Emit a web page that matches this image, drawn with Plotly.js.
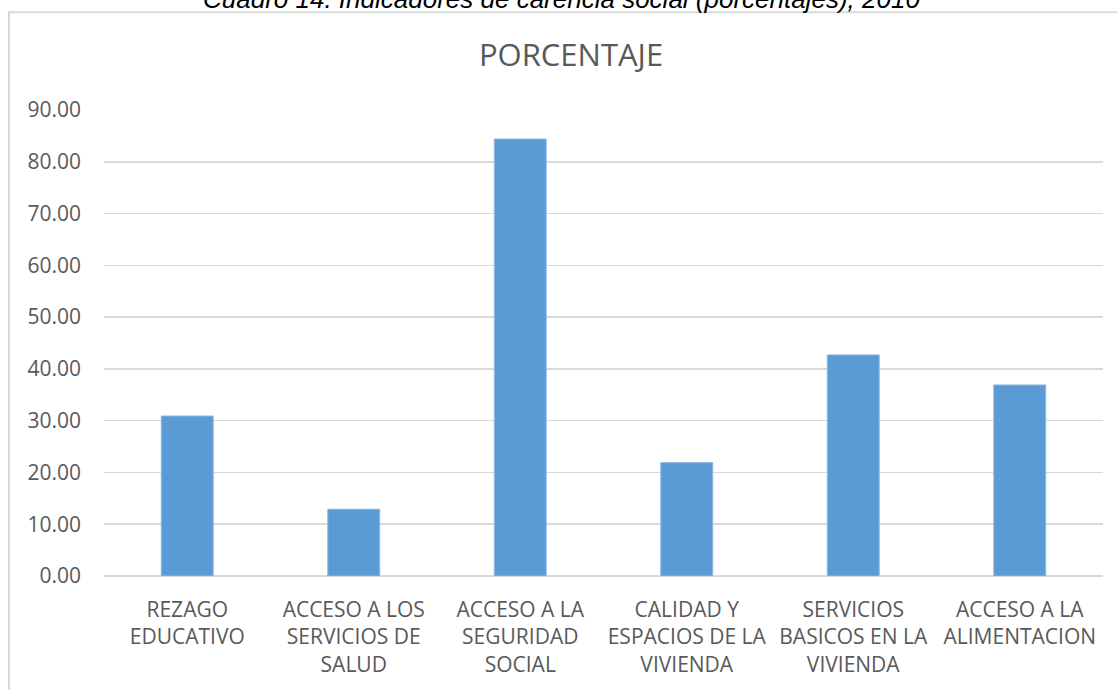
<!DOCTYPE html>
<html>
<head>
<meta charset="utf-8">
<script src="https://cdn.plot.ly/plotly-3.0.1.min.js"></script>
<style>html,body{margin:0;padding:0;background:#fff;}#chart{width:1117px;height:690px;}</style>
</head>
<body>
<div id="chart"></div>
<script>
const categories = [
  "REZAGO<br>EDUCATIVO",
  "ACCESO A LOS<br>SERVICIOS DE<br>SALUD",
  "ACCESO A LA<br>SEGURIDAD<br>SOCIAL",
  "CALIDAD Y<br>ESPACIOS DE LA<br>VIVIENDA",
  "SERVICIOS<br>BASICOS EN LA<br>VIVIENDA",
  "ACCESO A LA<br>ALIMENTACION"
];
const porcentaje = [30.9, 12.9, 84.4, 21.9, 42.7, 36.9];
const yTicks = [0, 10, 20, 30, 40, 50, 60, 70, 80, 90];
const chartTitle = "PORCENTAJE";
const caption = "Cuadro 14. Indicadores de carencia social (porcentajes), 2010";

const trace = {
  type: "bar",
  x: categories,
  y: porcentaje,
  marker: {color: "#5B9BD5", line: {color: "#8FB8E0", width: 1}},
  hoverinfo: "x+y"
};

const layout = {
  width: 1117,
  height: 690,
  margin: {l: 104, r: 14, t: 110, b: 113.5, pad: 0},
  paper_bgcolor: "#ffffff",
  plot_bgcolor: "#ffffff",
  showlegend: false,
  bargap: 0.688,
  font: {family: "Open Sans, sans-serif", color: "#595959"},
  title: {
    text: chartTitle,
    font: {family: "Open Sans, sans-serif", size: 31, color: "#595959"},
    x: 0.4675, xref: "paper", xanchor: "center",
    y: 1 - 66 / 690, yref: "container", yanchor: "bottom"
  },
  xaxis: {
    showgrid: false,
    zeroline: false,
    showline: false,
    ticks: "",
    tickfont: {family: "Open Sans, sans-serif", size: 21, color: "#595959"},
    ticklabelstandoff: 19,
    automargin: false,
    fixedrange: true
  },
  yaxis: {
    range: [0, 90],
    tickvals: yTicks,
    ticktext: yTicks.map(v => v.toFixed(2)),
    showgrid: true,
    gridcolor: "#D9D9D9",
    gridwidth: 1.5,
    zeroline: true,
    zerolinecolor: "#D9D9D9",
    zerolinewidth: 1.5,
    showline: false,
    ticks: "",
    tickfont: {family: "Open Sans, sans-serif", size: 21, color: "#595959"},
    ticklabelstandoff: 22,
    automargin: false,
    fixedrange: true
  },
  shapes: [{
    type: "rect",
    xref: "paper", yref: "paper",
    x0: -0.0951, x1: 1.03,
    y0: -0.3, y1: 1.21,
    line: {color: "#D9D9D9", width: 2},
    fillcolor: "rgba(0,0,0,0)",
    layer: "below"
  }],
  annotations: [{
    text: "<i>" + caption + "</i>",
    xref: "paper", yref: "paper",
    x: 0.458, xanchor: "center",
    y: 1.2008, yanchor: "bottom",
    showarrow: false,
    font: {family: "Liberation Sans, Arial, sans-serif", size: 26, color: "#000000"}
  }]
};

Plotly.newPlot("chart", [trace], layout, {displayModeBar: false, staticPlot: true});
</script>
</body>
</html>
